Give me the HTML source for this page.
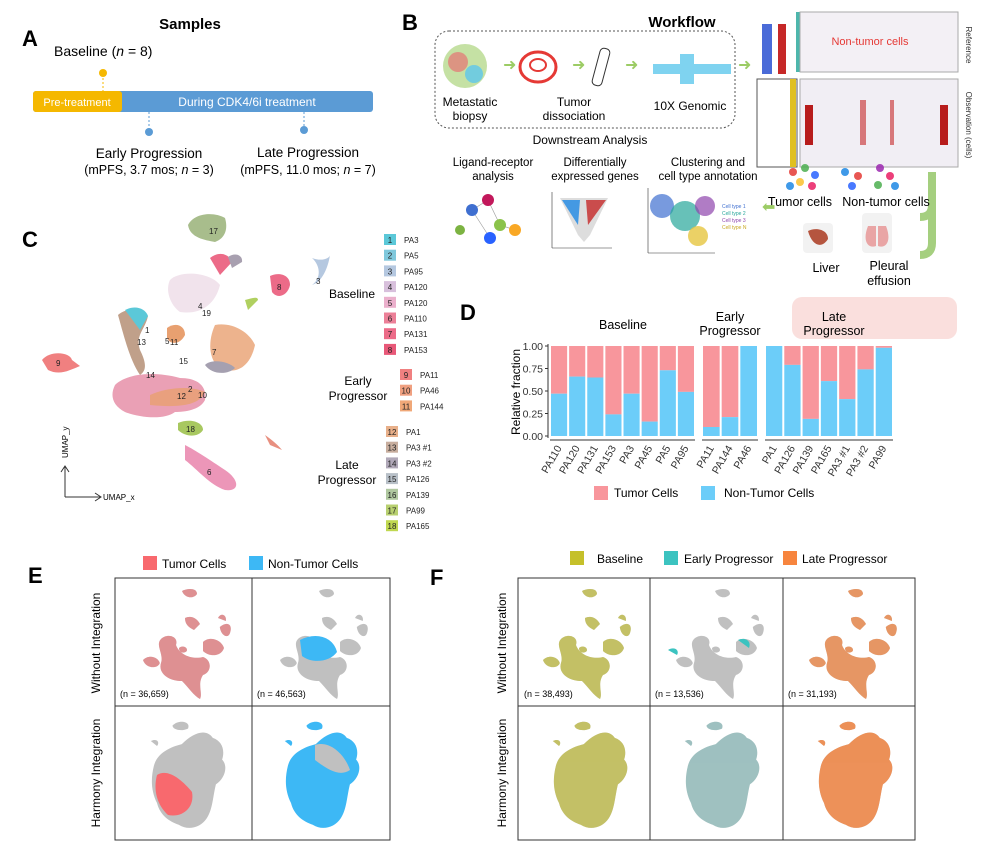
<!DOCTYPE html>
<html><head><meta charset="utf-8">
<style>
body{margin:0;background:#fff;font-family:"Liberation Sans",sans-serif;}
svg text{font-family:"Liberation Sans",sans-serif;}
</style></head>
<body>
<svg width="981" height="846" viewBox="0 0 981 846" xmlns="http://www.w3.org/2000/svg">
<defs>
<g id="umapA">
 <path d="M58,-15 C70,-25 80,-20 75,-5 C72,5 60,0 58,-15Z"/>
 <path d="M-70,40 C-60,30 -45,35 -42,45 C-45,55 -65,55 -70,40Z"/>
 <path d="M-40,5 C-30,-5 -10,0 -15,15 C-10,30 10,40 30,35 C45,40 45,60 30,65 C20,80 30,95 25,105 C15,100 5,85 -5,75 C-30,75 -45,60 -40,45 C-35,30 -50,15 -40,5Z"/>
 <path d="M30,10 C40,0 60,5 65,20 C60,35 40,35 30,25Z"/>
 <path d="M0,-30 C10,-35 20,-30 25,-20 L15,-10 C5,-15 0,-20 0,-30Z"/>
 <path d="M55,-30 C60,-40 70,-35 68,-25Z"/>
 <path d="M-5,-75 C5,-80 20,-80 20,-70 C15,-62 0,-62 -5,-75Z"/>
 <path d="M-10,20 C-5,15 5,18 3,25 C-2,30 -10,28 -10,20Z"/>
</g>
<g id="umapB">
 <path d="M-55,-10 C-50,-30 -30,-40 -10,-45 C10,-65 30,-70 40,-55 C55,-50 60,-35 55,-20 C65,-10 60,10 45,20 C40,40 40,60 30,75 C20,90 0,95 -15,85 C-30,80 -45,70 -50,50 C-60,30 -60,10 -55,-10Z"/>
 <path d="M-25,-75 C-15,-85 5,-82 0,-70 C-10,-65 -25,-68 -25,-75Z"/>
 <path d="M-60,-50 C-50,-55 -45,-48 -50,-42Z"/>
</g>
</defs>

<!-- PANEL A -->
<g>
<text x="22" y="46" font-size="22" font-weight="bold">A</text>
<text x="190" y="29" font-size="15" font-weight="bold" text-anchor="middle">Samples</text>
<text x="54" y="56" font-size="14">Baseline (<tspan font-style="italic">n</tspan> = 8)</text>
<line x1="103" y1="74" x2="103" y2="92" stroke="#f5b800" stroke-dasharray="2,2"/>
<circle cx="103" cy="73" r="4" fill="#f5b800"/>
<rect x="33" y="91" width="340" height="21" rx="3" fill="#5b9bd5"/>
<rect x="33" y="91" width="89" height="21" rx="3" fill="#f5b800"/>
<text x="77" y="106" font-size="11" fill="#fff" text-anchor="middle">Pre-treatment</text>
<text x="247" y="106" font-size="12" fill="#fff" text-anchor="middle">During CDK4/6i treatment</text>
<line x1="149" y1="112" x2="149" y2="130" stroke="#5b9bd5" stroke-dasharray="2,2"/>
<circle cx="149" cy="132" r="4" fill="#5b9bd5"/>
<line x1="304" y1="112" x2="304" y2="128" stroke="#5b9bd5" stroke-dasharray="2,2"/>
<circle cx="304" cy="130" r="4" fill="#5b9bd5"/>
<text x="149" y="158" font-size="13.5" text-anchor="middle">Early Progression</text>
<text x="149" y="174" font-size="12.5" text-anchor="middle">(mPFS, 3.7 mos; <tspan font-style="italic">n</tspan> = 3)</text>
<text x="308" y="157" font-size="13.5" text-anchor="middle">Late Progression</text>
<text x="308" y="174" font-size="12.5" text-anchor="middle">(mPFS, 11.0 mos; <tspan font-style="italic">n</tspan> = 7)</text>
</g>

<!-- PANEL B -->
<g>
<text x="402" y="30" font-size="22" font-weight="bold">B</text>
<text x="682" y="27" font-size="15" font-weight="bold" text-anchor="middle">Workflow</text>
<rect x="435" y="31" width="300" height="97" rx="14" fill="none" stroke="#555" stroke-dasharray="2,2"/>
<circle cx="465" cy="66" r="22" fill="#8bc34a" opacity="0.5"/><circle cx="458" cy="62" r="10" fill="#e57373" opacity="0.7"/><circle cx="474" cy="74" r="9" fill="#4fc3f7" opacity="0.7"/>
<text x="470" y="106" font-size="12" text-anchor="middle">Metastatic</text><text x="470" y="120" font-size="12" text-anchor="middle">biopsy</text>
<text x="503" y="70" font-size="16" fill="#9ccc65">➜</text>
<ellipse cx="538" cy="67" rx="18" ry="15" fill="none" stroke="#e53935" stroke-width="3"/><ellipse cx="538" cy="65" rx="8" ry="6" fill="none" stroke="#e53935" stroke-width="2"/>
<text x="572" y="70" font-size="16" fill="#9ccc65">➜</text>
<rect x="596" y="48" width="10" height="38" rx="4" fill="#fff" stroke="#333" transform="rotate(15 601 67)"/>
<text x="574" y="106" font-size="12" text-anchor="middle">Tumor</text><text x="574" y="120" font-size="12" text-anchor="middle">dissociation</text>
<text x="625" y="70" font-size="16" fill="#9ccc65">➜</text>
<rect x="653" y="64" width="78" height="10" fill="#7fd3f0"/><rect x="680" y="54" width="14" height="30" fill="#7fd3f0"/>
<text x="690" y="110" font-size="12" text-anchor="middle">10X Genomic</text>
<text x="738" y="70" font-size="16" fill="#9ccc65">➜</text>
<text x="590" y="144" font-size="12" text-anchor="middle">Downstream Analysis</text>
<!-- heatmap -->
<rect x="762" y="24" width="24" height="50" fill="#4a6bd8"/><rect x="772" y="24" width="6" height="50" fill="#fff"/><rect x="778" y="24" width="8" height="50" fill="#c62828"/>
<rect x="796" y="12" width="4" height="60" fill="#4db6ac"/>
<rect x="800" y="12" width="158" height="60" fill="#f3f0f5" stroke="#aaa"/>
<text x="870" y="45" font-size="11" fill="#e53935" text-anchor="middle">Non-tumor cells</text>
<text x="966" y="45" font-size="8" fill="#333" transform="rotate(90 966 45)" text-anchor="middle">Reference</text>
<rect x="757" y="79" width="40" height="88" fill="#fff" stroke="#555"/>
<rect x="790" y="79" width="6" height="88" fill="#e0c020"/>
<rect x="800" y="79" width="158" height="88" fill="#f1eef4" stroke="#aaa"/>
<rect x="805" y="105" width="8" height="40" fill="#b71c1c"/><rect x="940" y="105" width="8" height="40" fill="#b71c1c"/><rect x="860" y="100" width="6" height="45" fill="#c62828" opacity="0.6"/><rect x="890" y="100" width="4" height="45" fill="#c62828" opacity="0.6"/>
<text x="966" y="125" font-size="8" fill="#333" transform="rotate(90 966 125)" text-anchor="middle">Observation (cells)</text>
<path d="M932,172 L932,205 Q932,217 920,217" stroke="#a5cf7f" stroke-width="8" fill="none"/>
<path d="M932,205 L932,243 Q932,255 920,255" stroke="#a5cf7f" stroke-width="8" fill="none"/>
<g opacity="0.85"><circle cx="793" cy="172" r="4" fill="#e53935"/><circle cx="805" cy="168" r="4" fill="#4caf50"/><circle cx="815" cy="175" r="4" fill="#2962ff"/><circle cx="800" cy="182" r="4" fill="#fbc02d"/><circle cx="812" cy="186" r="4" fill="#e91e63"/><circle cx="790" cy="186" r="4" fill="#1e88e5"/>
<circle cx="845" cy="172" r="4" fill="#1e88e5"/><circle cx="858" cy="176" r="4" fill="#e53935"/><circle cx="852" cy="186" r="4" fill="#2962ff"/><circle cx="880" cy="168" r="4" fill="#9c27b0"/><circle cx="890" cy="176" r="4" fill="#e91e63"/><circle cx="878" cy="185" r="4" fill="#4caf50"/><circle cx="895" cy="186" r="4" fill="#1e88e5"/></g>
<text x="800" y="206" font-size="12.5" text-anchor="middle">Tumor cells</text>
<text x="886" y="206" font-size="12.5" text-anchor="middle">Non-tumor cells</text>
<rect x="803" y="223" width="30" height="30" rx="4" fill="#f2f2f2"/><path d="M808,231 C815,227 828,229 828,239 C822,249 812,246 808,231Z" fill="#b5553f"/>
<text x="826" y="272" font-size="12.5" text-anchor="middle">Liver</text>
<rect x="862" y="213" width="30" height="40" rx="4" fill="#f2f2f2"/><path d="M868,226 C862,241 868,249 876,246 L876,226Z M886,226 C892,241 886,249 878,246 L878,226Z" fill="#e9a5a5"/>
<text x="889" y="270" font-size="12.5" text-anchor="middle">Pleural</text><text x="889" y="285" font-size="12.5" text-anchor="middle">effusion</text>
<text x="762" y="212" font-size="16" fill="#9ccc65">⬅</text>
<text x="493" y="166" font-size="11.5" text-anchor="middle">Ligand-receptor</text><text x="493" y="180" font-size="11.5" text-anchor="middle">analysis</text>
<text x="595" y="166" font-size="11.5" text-anchor="middle">Differentially</text><text x="595" y="180" font-size="11.5" text-anchor="middle">expressed genes</text>
<text x="708" y="166" font-size="11.5" text-anchor="middle">Clustering and</text><text x="708" y="180" font-size="11.5" text-anchor="middle">cell type annotation</text>
<g stroke="#999" stroke-width="0.6"><line x1="472" y1="210" x2="488" y2="200"/><line x1="488" y1="200" x2="500" y2="225"/><line x1="472" y1="210" x2="490" y2="238"/><line x1="500" y1="225" x2="515" y2="230"/></g>
<circle cx="472" cy="210" r="6" fill="#3f6fd0"/><circle cx="488" cy="200" r="6" fill="#c2185b"/><circle cx="500" cy="225" r="6" fill="#8bc34a"/><circle cx="490" cy="238" r="6" fill="#2962ff"/><circle cx="515" cy="230" r="6" fill="#f9a825"/><circle cx="460" cy="230" r="5" fill="#7cb342"/>
<line x1="552" y1="192" x2="552" y2="248" stroke="#333" stroke-width="0.6"/><line x1="552" y1="248" x2="612" y2="248" stroke="#333" stroke-width="0.6"/>
<path d="M560,198 L578,235 L584,242 L590,235 L608,198Z" fill="#ddd"/><path d="M562,200 L578,225 L580,200Z" fill="#1e88e5" opacity="0.8"/><path d="M606,200 L588,225 L586,200Z" fill="#c62828" opacity="0.8"/>
<line x1="648" y1="188" x2="648" y2="253" stroke="#333" stroke-width="0.6"/><line x1="648" y1="253" x2="715" y2="253" stroke="#333" stroke-width="0.6"/>
<circle cx="662" cy="206" r="12" fill="#3f6fd0" opacity="0.7"/><circle cx="685" cy="216" r="15" fill="#26a69a" opacity="0.7"/><circle cx="705" cy="206" r="10" fill="#8e44ad" opacity="0.7"/><circle cx="698" cy="236" r="10" fill="#e6c640" opacity="0.8"/>
<text x="722" y="208" font-size="5" fill="#3f6fd0">Cell type 1</text><text x="722" y="215" font-size="5" fill="#26a69a">Cell type 2</text><text x="722" y="222" font-size="5" fill="#8e44ad">Cell type 3</text><text x="722" y="229" font-size="5" fill="#c9a820">Cell type N</text>
</g>

<!-- PANEL C -->
<g>
<text x="22" y="247" font-size="22" font-weight="bold">C</text>
<path d="M188,225 C195,212 215,212 225,218 C228,228 226,238 215,242 C205,240 190,238 188,225Z" fill="#a8bd8c"/>
<path d="M42,360 C50,350 70,352 72,360 L80,366 C70,370 60,376 48,370Z" fill="#f08080"/>
<path d="M115,385 C125,375 150,370 180,378 C200,378 207,388 205,400 C200,410 185,412 175,412 C165,420 140,418 125,412 C112,405 110,395 115,385Z" fill="#eaa0b5"/>
<path d="M150,395 C165,388 190,385 205,392 C200,405 180,408 150,405Z" fill="#e8a070" opacity="0.8"/>
<path d="M178,423 C190,418 203,422 203,430 C198,438 185,437 178,430Z" fill="#a8c860"/>
<path d="M185,445 C195,450 210,460 225,470 C240,480 240,492 225,490 C210,485 198,470 185,460Z" fill="#ec96b8"/>
<path d="M118,315 C125,308 140,308 148,316 C145,330 135,335 140,350 C145,360 148,370 140,375 C130,360 125,340 118,315Z" fill="#c0a08a"/>
<path d="M125,310 C135,305 145,308 148,316 L140,330 Z" fill="#5bc8d8"/>
<path d="M167,328 C175,322 185,325 185,335 C180,345 170,345 167,338Z" fill="#e8a070"/>
<path d="M215,325 C230,322 248,330 255,345 C250,368 235,375 220,368 C208,360 208,340 215,325Z" fill="#e8a070" opacity="0.8"/>
<path d="M205,365 C212,358 230,362 235,368 C228,375 212,375 205,365Z" fill="#a5a0b0"/>
<path d="M270,276 C278,272 290,274 290,285 C288,295 278,300 272,292Z" fill="#ec6b88"/>
<path d="M312,258 C322,262 330,258 330,255 C328,268 322,282 312,285 C322,278 320,265 312,258Z" fill="#b5c8e0"/>
<path d="M210,258 C220,250 230,255 232,262 L220,275Z" fill="#ec6b88"/>
<path d="M228,257 C235,252 243,255 242,262 L232,268Z" fill="#a8a0b0"/>
<path d="M170,280 C180,270 210,272 220,285 C215,305 200,315 180,312 C170,305 165,290 170,280Z" fill="#e8d0e0" opacity="0.6"/>
<path d="M245,300 C252,298 258,296 258,300 L248,310Z" fill="#b0d060"/>
<path d="M265,435 C272,440 278,445 282,450 L270,445Z" fill="#e89080"/>
<g font-size="8" fill="#222">
<text x="209" y="234">17</text><text x="56" y="366">9</text><text x="186" y="432">18</text><text x="207" y="475">6</text><text x="277" y="290">8</text><text x="316" y="284">3</text>
<text x="145" y="333">1</text><text x="137" y="345">13</text><text x="165" y="344">5</text><text x="170" y="345">11</text><text x="212" y="355">7</text><text x="179" y="364">15</text><text x="146" y="378">14</text>
<text x="188" y="392">2</text><text x="177" y="399">12</text><text x="198" y="398">10</text><text x="198" y="309">4</text><text x="202" y="316">19</text>
</g>
<line x1="65" y1="497" x2="65" y2="467" stroke="#333"/><path d="M61,472 L65,466 L69,472" fill="none" stroke="#333"/>
<line x1="65" y1="497" x2="100" y2="497" stroke="#333"/><path d="M95,493 L101,497 L95,501" fill="none" stroke="#333"/>
<text x="103" y="500" font-size="8">UMAP_x</text>
<text x="68" y="458" font-size="8" transform="rotate(-90 68 458)">UMAP_y</text>
</g>
<g id="legendC"></g>

<!-- PANEL D -->
<g>
<text x="460" y="320" font-size="22" font-weight="bold">D</text>
<text x="623" y="329" font-size="12.5" text-anchor="middle">Baseline</text>
<text x="730" y="321" font-size="12.5" text-anchor="middle">Early</text>
<text x="730" y="335" font-size="12.5" text-anchor="middle">Progressor</text>
<rect x="792" y="297" width="165" height="42" rx="10" fill="#fadcd9" opacity="0.9"/>
<text x="834" y="321" font-size="12.5" text-anchor="middle">Late</text>
<text x="834" y="335" font-size="12.5" text-anchor="middle">Progressor</text>
<text x="520" y="392" font-size="12" text-anchor="middle" transform="rotate(-90 520 392)">Relative fraction</text>
<g id="chartD"></g>
<rect x="594" y="486" width="14" height="14" fill="#f8969c"/>
<text x="614" y="497" font-size="12">Tumor Cells</text>
<rect x="701" y="486" width="14" height="14" fill="#6ccdf9"/>
<text x="724" y="497" font-size="12">Non-Tumor Cells</text>
</g>

<!-- PANEL E -->
<g>
<text x="28" y="583" font-size="22" font-weight="bold">E</text>
<rect x="143" y="556" width="14" height="14" fill="#f8696e"/><text x="162" y="568" font-size="12">Tumor Cells</text>
<rect x="249" y="556" width="14" height="14" fill="#3db8f5"/><text x="268" y="568" font-size="12">Non-Tumor Cells</text>
<rect x="115" y="578" width="275" height="262" fill="none" stroke="#333"/>
<line x1="252" y1="578" x2="252" y2="840" stroke="#333"/><line x1="115" y1="706" x2="390" y2="706" stroke="#333"/>
<text x="100" y="643" font-size="12" text-anchor="middle" transform="rotate(-90 100 643)">Without Integration</text>
<text x="100" y="773" font-size="12" text-anchor="middle" transform="rotate(-90 100 773)">Harmony Integration</text>
<use href="#umapA" transform="translate(185,636) scale(0.6)" fill="#c0c0c0"/>
<use href="#umapA" transform="translate(185,636) scale(0.6)" fill="#f8696e" opacity="0.55"/>
<use href="#umapA" transform="translate(322,636) scale(0.6)" fill="#c0c0c0"/>
<path d="M300,640 C315,632 333,636 337,652 C330,662 312,664 302,656Z" fill="#3db8f5"/>
<text x="120" y="697" font-size="9">(n = 36,659)</text><text x="257" y="697" font-size="9">(n = 46,563)</text>
<use href="#umapB" transform="translate(188,772) scale(0.62)" fill="#c0c0c0"/>
<path d="M157,775 C168,768 182,780 192,792 C195,808 182,818 168,815 C157,805 153,790 157,775Z" fill="#f8696e"/>
<use href="#umapB" transform="translate(322,772) scale(0.62)" fill="#3db8f5"/>
<path d="M315,745 C330,740 345,755 350,770 C340,777 328,770 315,760Z" fill="#c0c0c0"/>
</g>

<!-- PANEL F -->
<g>
<text x="430" y="585" font-size="22" font-weight="bold">F</text>
<rect x="570" y="551" width="14" height="14" fill="#c5c02a"/><text x="597" y="563" font-size="12">Baseline</text>
<rect x="664" y="551" width="14" height="14" fill="#3cc3c0"/><text x="684" y="563" font-size="12">Early Progressor</text>
<rect x="783" y="551" width="14" height="14" fill="#f7853e"/><text x="802" y="563" font-size="12">Late Progressor</text>
<rect x="518" y="578" width="397" height="262" fill="none" stroke="#333"/>
<line x1="650" y1="578" x2="650" y2="840" stroke="#333"/><line x1="783" y1="578" x2="783" y2="840" stroke="#333"/><line x1="518" y1="706" x2="915" y2="706" stroke="#333"/>
<text x="506" y="643" font-size="12" text-anchor="middle" transform="rotate(-90 506 643)">Without Integration</text>
<text x="506" y="773" font-size="12" text-anchor="middle" transform="rotate(-90 506 773)">Harmony Integration</text>
<use href="#umapA" transform="translate(585,636) scale(0.6)" fill="#c0c0c0"/>
<use href="#umapA" transform="translate(585,636) scale(0.6)" fill="#c5c02a" opacity="0.6"/>
<use href="#umapA" transform="translate(718,636) scale(0.6)" fill="#c0c0c0"/>
<path d="M668,650 C674,646 680,650 677,655Z M738,640 C744,637 752,640 749,648Z" fill="#3cc3c0"/>
<use href="#umapA" transform="translate(851,636) scale(0.6)" fill="#c0c0c0"/>
<use href="#umapA" transform="translate(851,636) scale(0.6)" fill="#f7853e" opacity="0.7"/>
<text x="524" y="697" font-size="9">(n = 38,493)</text><text x="655" y="697" font-size="9">(n = 13,536)</text><text x="788" y="697" font-size="9">(n = 31,193)</text>
<use href="#umapB" transform="translate(590,772) scale(0.62)" fill="#c0c0c0"/>
<use href="#umapB" transform="translate(590,772) scale(0.62)" fill="#c5c02a" opacity="0.6"/>
<use href="#umapB" transform="translate(722,772) scale(0.62)" fill="#c0c0c0"/>
<use href="#umapB" transform="translate(722,772) scale(0.62)" fill="#3cc3c0" opacity="0.25"/>
<use href="#umapB" transform="translate(855,772) scale(0.62)" fill="#c0c0c0"/>
<use href="#umapB" transform="translate(855,772) scale(0.62)" fill="#f7853e" opacity="0.8"/>
</g>
</svg>
<script>
// Panel D data
const groups = ["Baseline", "Early Progressor", "Late Progressor"];
const baselineSamples = ["PA110","PA120","PA131","PA153","PA3","PA45","PA5","PA95"];
const baselineNonTumor = [0.47,0.66,0.65,0.24,0.47,0.16,0.73,0.49];
const earlySamples = ["PA11","PA144","PA46"];
const earlyNonTumor = [0.10,0.21,1.00];
const lateSamples = ["PA1","PA126","PA139","PA165","PA3 #1","PA3 #2","PA99"];
const lateNonTumor = [1.00,0.79,0.19,0.61,0.41,0.74,0.98];
const yTicks = [0, 0.25, 0.5, 0.75, 1];
const yTickLabels = ["0.00","0.25","0.50","0.75","1.00"];

// Panel C legend data
const legendIds = ["1","2","3","4","5","6","7","8","9","10","11","12","13","14","15","16","17","18"];
const legendNames = ["PA3","PA5","PA95","PA120","PA120","PA110","PA131","PA153","PA11","PA46","PA144","PA1","PA3 #1","PA3 #2","PA126","PA139","PA99","PA165"];
const legendColors = ["#5bc8d8","#7fc8dc","#b5c8e0","#d8c0dc","#ebb0cc","#ec8098","#ec6b88","#e85878","#f08080","#f0a080","#f0a878","#e8b08a","#c8ae9e","#b0a8b8","#b8c0c8","#b0c8a0","#b8d070","#c0d850"];
const legendGroups = ["Baseline","Early Progressor","Late Progressor"];

const NS = "http://www.w3.org/2000/svg";
function mk(tag, attrs, parent){const e=document.createElementNS(NS,tag);for(const k in attrs)e.setAttribute(k,attrs[k]);parent.appendChild(e);return e;}

const Y0 = 436, YH = 90;
function yScale(v){ return Y0 - v*YH; }
const chart = document.getElementById("chartD");
const panels = [
  {names: baselineSamples, vals: baselineNonTumor, x0: 550, x1: 695},
  {names: earlySamples, vals: earlyNonTumor, x0: 702, x1: 758},
  {names: lateSamples, vals: lateNonTumor, x0: 765, x1: 893}
];
function xBand(p, i){ const step = (p.x1 - p.x0)/p.names.length; return p.x0 + i*step + 1; }
panels.forEach((p, pi) => {
  const step = (p.x1 - p.x0)/p.names.length;
  const axis = mk("line",{x1:p.x0,y1:Y0+4,x2:p.x1,y2:Y0+4,stroke:"#333"},chart);
  
  
  p.names.forEach((n, i) => {
    const x = xBand(p, i), w = step - 2, v = p.vals[i];
    const t = mk("rect",{x:x,y:yScale(1),width:w,height:yScale(v)-yScale(1),fill:"#f8969c"},chart);
    
    
    const b = mk("rect",{x:x,y:yScale(v),width:w,height:Y0-yScale(v),fill:"#6ccdf9"},chart);
    
    
    const cx = x + w/2 + 3;
    const lbl = mk("text",{x:cx,y:Y0+12,"font-size":"10.5","text-anchor":"end",transform:`rotate(-60 ${cx} ${Y0+12})`,fill:"#333"},chart);
    lbl.textContent = n;
    
    
  });
});
mk("line",{x1:548,y1:yScale(1)-2,x2:548,y2:Y0+2,stroke:"#333"},chart);
yTicks.forEach((v,i)=>{
  mk("line",{x1:545,y1:yScale(v),x2:548,y2:yScale(v),stroke:"#333"},chart);
  const t = mk("text",{x:543,y:yScale(v)+4,"font-size":"10.5","text-anchor":"end",fill:"#333"},chart);
  t.textContent = yTickLabels[i];
  
  
});

// Legend C
const lg = document.getElementById("legendC");
legendIds.forEach((id, i) => {
  let y;
  if (i < 8) y = 234 + i*15.7;
  else if (i < 11) y = 369 + (i-8)*15.7;
  else y = 426 + (i-11)*15.7;
  const bx = (i>=8 && i<11) ? 400 : (i>=11 ? 386 : 384);
  const r = mk("rect",{x:bx,y:y,width:12,height:11,fill:legendColors[i]},lg);
  
  
  const n = mk("text",{x:bx+6,y:y+9,"font-size":"8","text-anchor":"middle",fill:"#222"},lg);
  n.textContent = id;
  const t = mk("text",{x:bx+20,y:y+9,"font-size":"8",fill:"#222"},lg);
  t.textContent = legendNames[i];
  
  
});
[[352,298,"Baseline"],[358,385,"Early"],[358,400,"Progressor"],[347,469,"Late"],[347,484,"Progressor"]].forEach(a=>{
  const t = mk("text",{x:a[0],y:a[1],"font-size":"12","text-anchor":"middle"},lg);
  t.textContent = a[2];
  
  
});
</script>
</body></html>
